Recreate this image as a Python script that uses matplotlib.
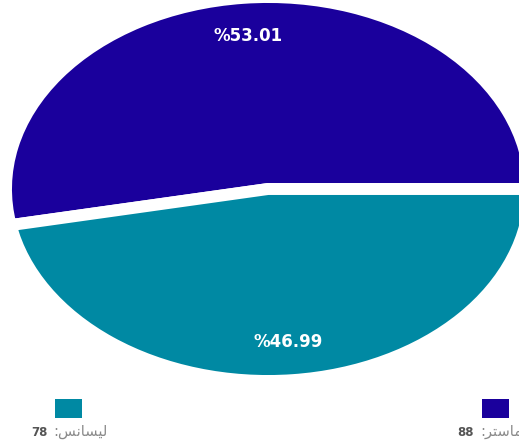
import matplotlib
matplotlib.use("Agg")
import matplotlib.pyplot as plt
from matplotlib.patches import Rectangle

# data
labels = ["ماستر", "ليسانس"]
# visual (shaped, left-to-right) forms of the labels for matplotlib
labels_visual = ["\uFEAE\uFE98\uFEB3\uFE8E\uFEE3", "\uFEB2\uFEE7\uFE8E\uFEB4\uFEF4\uFEDF"]
counts = [88, 78]
colors = ["#1a009c", "#0089a3"]

W, H = 519, 444
fig = plt.figure(figsize=(W / 100, H / 100), dpi=100)
ax = fig.add_axes([0, 0, 1, 1])

# pie centre and radii in pixels (the pie is stretched into an ellipse)
cx, cy = 268, 189
rx, ry = 262, 192

wedges, texts, autotexts = ax.pie(
    counts, colors=colors, startangle=0, counterclock=True, radius=1,
    autopct=lambda p: "%" + f"{p:.2f}", pctdistance=0.8,
    wedgeprops=dict(edgecolor="white", linewidth=8.6),
    textprops=dict(color="white", fontsize=12, fontweight="bold"),
)
ax.set_aspect("auto")
ax.set_xlim(-cx / rx, (W - cx) / rx)
ax.set_ylim(-(H - cy) / ry, cy / ry)
ax.axis("off")

# legend: square with label underneath
legend_x = [495, 68.5]
for i, (name, n, c) in enumerate(zip(labels_visual, counts, colors)):
    x0 = legend_x[i]
    fig.patches.append(Rectangle(((x0 - 13.5) / W, (H - 418) / H), 27 / W, 19 / H,
                                 transform=fig.transFigure, facecolor=c, edgecolor="none"))
    split = x0 - 17
    fig.text((split - 4) / W, 1 - 432 / H, str(n), ha="right", va="center",
             fontsize=8.5, fontweight="bold", color="#555555")
    fig.text((split + 2) / W, 1 - 431 / H, ":" + name, ha="left", va="center",
             fontsize=10.5, color="#8a8a8a")

fig.savefig("out.png", dpi=100)
